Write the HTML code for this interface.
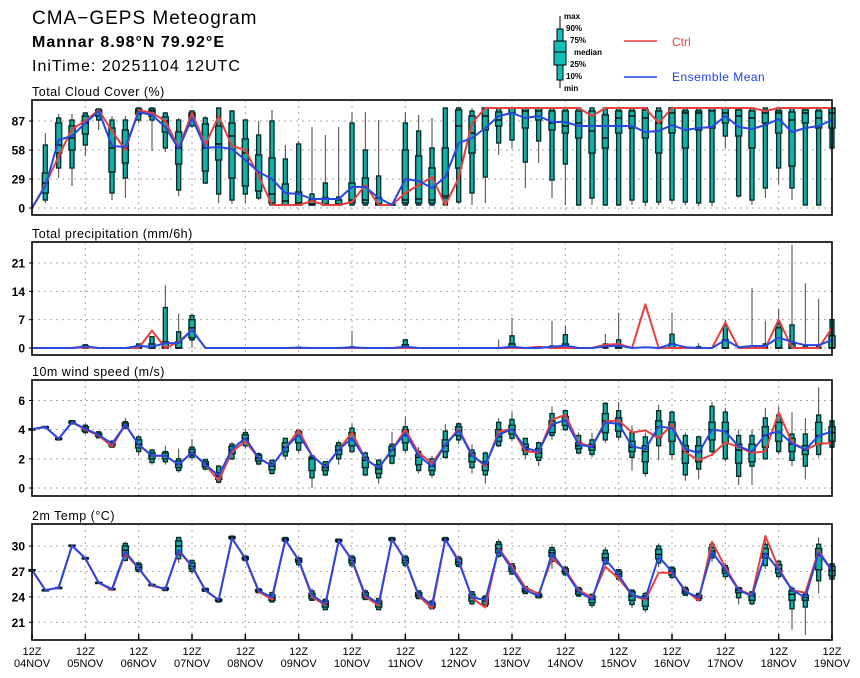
<!DOCTYPE html>
<html><head><meta charset="utf-8"><style>
html,body{margin:0;padding:0;background:#fff;}
svg{display:block;font-family:"Liberation Sans",sans-serif;}
</style></head><body>
<svg id="chart" width="860" height="678" viewBox="0 0 860 678">
<g>
<text x="32" y="24" font-size="19" letter-spacing="1">CMA−GEPS Meteogram</text>
<text x="32" y="47" font-size="16" font-weight="bold" letter-spacing="1">Mannar 8.98°N 79.92°E</text>
<text x="32" y="71" font-size="16" letter-spacing="1">IniTime: 20251104 12UTC</text>
</g>
<g>
<line x1="560" y1="16" x2="560" y2="88" stroke="#000" stroke-width="1"/>
<rect x="557" y="29" width="6" height="51" fill="#10c0b8" stroke="#000"/>
<rect x="554" y="41" width="12" height="24" fill="#10c0b8" stroke="#000"/>
<line x1="554" y1="52" x2="566" y2="52" stroke="#000"/>
<g font-size="8" font-weight="bold">
<text x="564" y="19">max</text>
<text x="566" y="31">90%</text>
<text x="570" y="43">75%</text>
<text x="574" y="55">median</text>
<text x="570" y="67">25%</text>
<text x="566" y="79">10%</text>
<text x="564" y="91">min</text>
</g>
<line x1="624" y1="41" x2="657" y2="41" stroke="#e84040" stroke-width="1.5"/>
<text x="672" y="46" font-size="12" fill="#e84040">Ctrl</text>
<line x1="624" y1="77" x2="657" y2="77" stroke="#2040e8" stroke-width="1.5"/>
<text x="672" y="81" font-size="12" fill="#2040e8" letter-spacing="0.5">Ensemble Mean</text>
</g>
<g id="plots"></g>
</svg>
<script>
// ---- time axis ----
const dayLabels = ["04NOV","05NOV","06NOV","07NOV","08NOV","09NOV","10NOV","11NOV","12NOV","13NOV","14NOV","15NOV","16NOV","17NOV","18NOV","19NOV"];
// ---- cloud cover ----
const ccTicks = [0,29,58,87];
const ccCtrl = [0,23,52,79,87,98,77,58,98,95,87,60,95,63,92,62,58,32,3,3,3,7,3,3,6,23,3,3,15,23,31,3,30,85,100,100,100,100,100,100,100,100,92,100,100,100,100,85,100,100,100,100,100,100,100,97,100,100,100,100,100];
const ccMean = [0,22,68,72,85,97,62,61,96,93,81,59,90,60,61,59,48,36,29,15,14,9,9,9,21,21,10,3,29,27,20,31,65,70,80,92,95,90,92,86,86,82,82,82,82,82,76,77,83,78,80,81,92,81,79,83,89,76,80,82,88];
const ccMin = [0,5,30,22,52,78,8,10,85,57,56,12,80,24,5,4,5,8,2,2,2,2,2,2,2,2,2,2,2,2,2,3,4,3,5,53,60,20,45,10,3,2,3,2,2,3,2,3,4,3,2,2,60,10,3,10,24,8,3,3,55];
const ccP10 = [0,8,40,40,63,88,15,30,88,88,60,18,82,25,14,8,14,10,3,3,3,3,3,3,3,3,3,3,3,3,3,3,6,15,31,65,68,46,67,28,44,3,10,3,3,8,6,6,8,6,5,6,72,12,8,20,40,20,3,3,60];
const ccP25 = [0,15,55,58,74,92,36,45,94,92,76,44,88,37,48,30,22,17,5,3,3,3,3,3,5,5,3,3,5,5,5,10,40,55,78,82,95,80,88,78,75,70,55,60,75,80,70,55,75,60,78,80,85,72,60,85,75,42,85,80,80];
const ccMed = [0,25,63,70,85,96,60,60,97,97,87,60,93,60,64,72,55,35,14,7,5,4,4,4,8,8,4,3,8,9,8,12,82,75,92,88,100,97,97,85,82,85,77,70,90,92,90,85,95,95,95,97,95,92,90,95,95,88,95,90,95];
const ccP75 = [0,35,85,82,92,98,80,78,99,99,91,76,95,84,82,85,69,53,50,24,16,8,10,8,25,30,10,4,58,52,40,60,98,92,100,96,100,100,100,97,97,97,97,93,97,97,98,97,100,97,97,100,100,98,97,98,97,96,98,97,100];
const ccP90 = [0,63,90,88,95,99,88,88,100,100,95,88,97,90,100,97,88,73,87,49,64,14,25,11,85,58,32,4,85,77,60,100,100,97,100,100,100,100,100,100,100,100,100,100,100,100,100,100,100,100,100,100,100,100,100,100,100,100,100,100,100];
const ccMax = [0,75,94,94,96,100,92,92,100,100,96,90,98,92,100,98,88,87,98,63,67,81,73,81,96,96,88,4,96,93,90,100,100,100,100,100,100,100,100,100,100,100,100,100,100,100,100,100,100,100,100,100,100,100,100,100,100,100,100,100,100];
// ---- precipitation ----
const prTicks = [0,7,14,21];
const prCtrl = [0,0,0,0,0.2,0,0,0,0,4.3,0,1.5,4.5,0,0,0,0,0,0,0,0,0,0,0,0,0,0,0,0,0,0,0,0,0,0,0,0,0,0.3,0,0,0,0,0.8,1,0,10.8,0,0,0,0,0,6.3,0,0,0,7,0,0,0,5];
const prMean = [0,0,0,0,0.4,0,0,0,0.5,0.3,1.2,1.2,4.5,0,0,0,0,0,0,0,0.1,0,0,0,0.2,0,0,0,0.3,0,0,0,0,0,0,0,0.3,0,0,0.3,0.6,0,0,0.4,0.6,0,0.2,0,1,0.2,0,0,2,0.2,0.5,0.5,2.6,1.5,0.7,0.7,2];
const prMed = [0,0,0,0,0,0,0,0,0,0,0,0,5,0,0,0,0,0,0,0,0,0,0,0,0,0,0,0,0,0,0,0,0,0,0,0,0,0,0,0,0,0,0,0,0,0,0,0,0,0,0,0,0,0,0,0,0,0,0,0,0];
const prP25 = [0,0,0,0,0,0,0,0,0,0,0,0,2.5,0,0,0,0,0,0,0,0,0,0,0,0,0,0,0,0,0,0,0,0,0,0,0,0,0,0,0,0,0,0,0,0,0,0,0,0,0,0,0,0,0,0,0,0,0,0,0,0];
const prP10 = [0,0,0,0,0,0,0,0,0,0,0,0,2,0,0,0,0,0,0,0,0,0,0,0,0,0,0,0,0,0,0,0,0,0,0,0,0,0,0,0,0,0,0,0,0,0,0,0,0,0,0,0,0,0,0,0,0,0,0,0,0];
const prP75 = [0,0,0,0,0.5,0,0,0,0.5,1,1.5,1.5,7,0,0,0,0,0,0,0,0,0,0,0,0,0,0,0,0.8,0,0,0,0,0,0,0,1,0,0,0,1,0,0,0,0.5,0,0,0,1,0,0,0,2,0,0,0,5,1,0,0,3];
const prP90 = [0,0,0,0,0.8,0,0,0,1,2.8,10,4,8,0,0,0,0,0,0,0,0.2,0,0,0,0.3,0,0,0,2,0,0,0,0,0,0,0,3,0,0,0.5,3.3,0,0,1,2,0,0,0,3.4,0,0.3,0,5.5,0,0.5,1,6,5.7,0.5,0.5,7];
const prMax = [0,0,0,0,1,0,0,0,1,2.8,15.5,8.5,8.6,0,0,0,0,0,0,0,0.4,0,0,0,4.2,0,0,0,2.2,0,0,0,0,0,0,2.1,7.5,0,0,6.7,5.6,0,0,3.5,8.7,0,0,0,8.7,0,1.2,0,7,0,14.8,6.7,9.6,25.5,16,12.2,7];
// ---- wind ----
const wsTicks = [0,2,4,6];
const wsCtrl = [4.04,4.18,3.38,4.52,4.0,3.6,2.85,4.34,2.97,2.21,2.21,1.6,2.44,1.6,0.5,2.5,3.2,2.05,1.53,2.74,3.95,2.21,1.44,2.63,3.8,1.99,1.37,2.63,4.0,2.4,1.7,2.97,4.04,2.3,1.48,3.88,4.04,2.51,2.44,4.68,5.02,3.08,2.85,4.57,4.63,3.81,3.95,3.42,4.34,2.44,1.9,2.28,3.13,2.81,2.4,2.51,5.18,3.13,2.63,3.04,3.08];
const wsMean = [4.04,4.18,3.38,4.52,4.06,3.65,3.04,4.34,2.97,2.21,2.21,1.6,2.44,1.6,0.85,2.67,3.42,2.05,1.53,2.74,3.65,2.21,1.44,2.63,3.42,1.99,1.37,2.63,3.77,2.21,1.48,2.97,3.95,2.21,1.6,3.65,4.04,2.74,2.51,4.34,4.68,2.97,2.81,4.5,4.4,2.85,2.67,4.22,4.11,2.67,2.4,4.0,3.88,2.85,2.51,3.65,3.88,3.04,2.63,3.58,3.88];
const wsMin = [4.0,4.1,3.25,4.35,3.7,3.4,2.75,4.0,2.2,1.6,1.6,1.05,1.9,1.2,0.3,1.9,2.7,1.55,0.9,1.95,2.4,0.0,0.8,1.6,2.4,0.8,0.3,1.6,2.4,1.0,0.7,2.0,3.0,1.0,0.3,2.8,3.2,2.0,1.5,3.3,3.9,2.3,2.1,3.1,3.3,1.2,0.8,1.9,1.9,0.5,0.6,2.2,1.8,0.2,0.2,2.0,2.3,1.5,0.6,2.1,2.7];
const wsP10 = [4.0,4.12,3.3,4.4,3.8,3.45,2.8,4.1,2.5,1.75,1.8,1.2,2.1,1.3,0.4,2.0,2.9,1.65,1.0,2.2,2.6,0.7,0.9,2.0,2.5,0.9,0.7,1.7,2.6,1.2,0.9,2.1,3.3,1.4,0.9,2.9,3.4,2.3,1.9,3.6,4.0,2.4,2.3,3.3,3.5,2.1,1.0,2.9,2.3,0.9,1.3,2.5,2.0,0.8,1.5,2.0,2.5,1.9,1.5,2.3,2.8];
const wsP25 = [4.0,4.15,3.33,4.45,3.9,3.55,2.9,4.2,2.75,2.0,2.0,1.4,2.25,1.45,0.6,2.35,3.15,1.85,1.25,2.5,3.1,1.2,1.2,2.3,2.9,1.4,1.0,2.2,3.1,1.6,1.2,2.5,3.6,1.8,1.2,3.2,3.7,2.6,2.1,3.8,4.3,2.7,2.6,3.8,3.9,2.5,1.8,3.5,3.2,1.7,1.8,3.3,3.1,1.7,1.8,2.8,3.2,2.5,2.3,3.0,3.2];
const wsMed = [4.04,4.18,3.38,4.5,4.05,3.65,3.0,4.3,3.0,2.2,2.2,1.6,2.45,1.65,0.8,2.6,3.4,2.05,1.5,2.8,3.6,2.0,1.4,2.6,3.3,1.9,1.3,2.6,3.6,2.1,1.5,2.9,3.9,2.2,1.6,3.5,4.0,2.8,2.4,4.3,4.6,2.9,2.8,4.6,4.4,2.8,2.5,4.2,4.1,2.5,2.5,4.0,3.9,2.6,2.4,3.6,3.8,3.0,2.6,3.6,3.8];
const wsP75 = [4.05,4.2,3.42,4.58,4.2,3.75,3.1,4.45,3.3,2.4,2.4,1.85,2.65,1.8,1.05,2.85,3.65,2.25,1.7,3.1,3.85,2.1,1.6,2.9,3.8,2.1,1.6,2.85,4.0,2.3,1.8,3.3,4.2,2.4,1.8,4.0,4.3,3.0,2.7,4.6,4.9,3.1,3.0,5.1,4.8,3.2,2.9,4.6,4.5,2.9,2.9,4.5,4.5,3.0,3.0,4.2,4.5,3.4,2.9,4.5,4.2];
const wsP90 = [4.05,4.22,3.45,4.62,4.3,3.85,3.2,4.55,3.5,2.6,2.5,2.0,2.8,1.95,1.5,3.0,3.8,2.35,1.9,3.4,3.95,2.2,1.8,3.1,4.1,2.4,1.9,3.0,4.2,2.5,2.0,3.9,4.4,2.6,2.4,4.5,4.7,3.4,3.1,5.1,5.3,3.6,3.3,5.8,5.3,3.8,3.5,5.3,5.2,3.6,3.5,5.6,5.2,3.6,3.6,4.8,5.0,3.7,3.7,5.0,4.6];
const wsMax = [4.05,4.25,3.5,4.65,4.4,3.9,3.3,4.8,3.6,2.7,2.9,2.7,3.35,2.0,1.55,3.15,4.05,2.45,1.95,3.45,4.0,2.3,1.85,3.25,4.4,2.5,2.0,3.85,4.9,2.8,2.2,4.4,4.5,3.0,2.5,4.8,5.2,3.4,3.2,5.6,5.4,3.8,3.8,5.9,5.9,4.3,3.8,5.7,5.3,3.8,3.6,5.9,5.5,4.0,4.0,5.5,5.6,5.2,4.8,6.9,4.6];
// ---- temperature ----
const tTicks = [21,24,27,30];
const tCtrl = [27.17,24.8,25.08,30.04,28.54,25.67,24.8,29.1,27.36,25.3,24.92,29.4,27.6,24.75,23.62,30.9,28.5,24.6,23.7,30.71,28.3,24.0,23.0,30.6,28.3,24.0,23.0,30.79,28.3,24.1,22.64,30.79,28.35,23.82,22.76,29.72,27.56,25.12,24.33,28.54,27.17,24.8,23.94,27.56,26.18,24.21,23.62,26.85,26.85,24.8,23.54,30.51,27.48,24.88,24.21,31.18,27.36,24.8,24.49,29.45,27.09];
const tMean = [27.17,24.8,25.08,30.04,28.54,25.67,24.92,29.33,27.36,25.39,24.92,29.53,27.64,24.8,23.62,30.9,28.54,24.72,23.94,30.71,28.35,24.21,23.15,30.63,28.35,24.21,23.23,30.79,28.35,24.21,23.03,30.79,28.15,23.94,23.62,29.61,27.24,24.8,24.09,29.13,26.97,24.61,23.7,28.43,26.57,24.21,23.82,28.74,26.97,24.61,23.94,29.33,27.17,24.8,24.09,29.13,27.17,24.8,23.94,29.21,27.09];
const tMin = [27.1,24.75,25.0,29.9,28.4,25.6,24.8,28.2,26.9,25.3,24.7,28.0,26.7,24.6,23.3,30.7,28.2,24.4,23.3,30.5,27.6,23.5,22.4,30.4,27.4,23.6,22.4,30.5,27.5,23.7,22.5,30.5,27.5,23.0,22.8,28.6,26.6,24.3,23.8,27.3,26.4,24.0,22.7,27.7,25.8,22.7,22.2,27.5,26.1,24.1,23.5,28.1,26.0,23.1,23.0,27.3,26.1,20.1,19.5,24.4,26.0];
const tP10 = [27.12,24.77,25.02,29.95,28.45,25.62,24.85,28.3,27.0,25.32,24.75,28.5,27.0,24.65,23.4,30.8,28.3,24.5,23.4,30.55,27.8,23.6,22.5,30.45,27.7,23.7,22.5,30.6,27.7,23.8,22.6,30.6,27.6,23.2,22.9,28.8,26.7,24.4,23.9,28.2,26.6,24.1,23.0,27.9,26.1,23.1,22.5,28.0,26.3,24.2,23.6,28.6,26.4,23.9,23.2,27.7,26.4,22.6,22.8,25.9,26.1];
const tP25 = [27.15,24.78,25.05,30.0,28.5,25.65,24.88,28.8,27.2,25.35,24.85,29.0,27.3,24.7,23.5,30.9,28.4,24.6,23.6,30.65,28.1,23.8,22.8,30.55,28.0,23.9,22.8,30.7,28.0,24.0,22.8,30.7,27.8,23.5,23.1,29.2,27.0,24.6,24.0,28.8,26.8,24.3,23.3,28.3,26.4,23.6,22.9,28.5,26.6,24.4,23.8,28.9,26.8,24.5,23.6,28.6,26.8,23.6,23.6,27.2,26.5];
const tMed = [27.17,24.8,25.08,30.05,28.55,25.67,24.92,29.5,27.5,25.4,24.95,30.0,27.6,24.8,23.6,31.0,28.55,24.7,23.9,30.75,28.3,24.1,23.1,30.65,28.3,24.2,23.2,30.8,28.3,24.2,23.1,30.8,28.1,23.9,23.5,29.7,27.3,24.8,24.1,29.2,27.0,24.6,23.7,28.6,26.7,24.1,23.8,29.0,27.0,24.6,23.9,29.4,27.1,24.8,24.1,29.1,27.3,24.3,23.9,28.9,27.1];
const tP75 = [27.2,24.82,25.1,30.1,28.6,25.7,24.96,30.0,27.8,25.45,25.05,30.6,28.0,24.95,23.7,31.1,28.7,24.85,24.2,30.9,28.5,24.4,23.5,30.75,28.6,24.5,23.5,30.9,28.6,24.5,23.3,30.9,28.5,24.3,23.9,30.2,27.6,25.0,24.3,29.5,27.3,24.9,24.1,29.1,27.0,24.6,24.1,29.6,27.3,24.9,24.2,29.8,27.4,25.0,24.4,29.7,27.8,24.7,24.2,29.7,27.6];
const tP90 = [27.2,24.84,25.12,30.1,28.65,25.72,24.98,30.3,28.0,25.48,25.1,31.0,28.3,25.0,23.8,31.15,28.8,24.95,24.5,31.0,28.6,24.7,23.7,30.8,28.8,24.7,23.8,31.0,28.8,24.7,23.5,31.0,28.7,24.6,24.1,30.5,27.9,25.2,24.5,29.8,27.5,25.1,24.3,29.5,27.2,24.8,24.4,30.0,27.5,25.1,24.4,30.2,27.7,25.1,24.6,30.2,28.2,25.0,24.4,30.2,27.9];
const tMax = [27.2,24.85,25.15,30.15,28.7,25.75,25.0,30.5,28.1,25.5,25.2,31.1,28.4,25.1,23.9,31.3,28.9,25.0,24.6,31.0,28.8,25.0,23.8,30.85,28.9,24.9,23.9,31.05,28.9,24.8,23.7,31.0,28.8,24.7,24.2,30.8,28.0,25.3,24.6,30.2,27.7,25.2,24.4,29.9,27.3,24.9,24.6,30.3,27.6,25.3,24.5,30.6,28.0,25.2,24.7,30.7,28.4,25.3,24.5,31.0,28.0];

const NS = "http://www.w3.org/2000/svg";
const X0 = 32, X1 = 832, NSTEP = 60;
function xOf(i){ return X0 + (X1 - X0) * i / NSTEP; }
const plots = document.getElementById('plots');
function mk(tag, attrs, parent){
  const e = document.createElementNS(NS, tag);
  for (const k in attrs) e.setAttribute(k, attrs[k]);
  (parent || plots).appendChild(e);
  return e;
}

const panels = [
  {name:'cloud-cover', title:'Total Cloud Cover (%)', top:100, bot:215, v0:0, y0:208, v1:87, y1:121, ticks:ccTicks, ctrl:ccCtrl, mean:ccMean,
   box:[ccMin,ccP10,ccP25,ccMed,ccP75,ccP90,ccMax], boxFrom:1},
  {name:'precipitation', title:'Total precipitation (mm/6h)', top:242, bot:355, v0:0, y0:348, v1:21, y1:263, ticks:prTicks, ctrl:prCtrl, mean:prMean,
   box:[null,prP10,prP25,prMed,prP75,prP90,prMax], boxFrom:1},
  {name:'wind-speed', title:'10m wind speed (m/s)', top:380, bot:496, v0:0, y0:488, v1:6, y1:400.5, ticks:wsTicks, ctrl:wsCtrl, mean:wsMean,
   box:[wsMin,wsP10,wsP25,wsMed,wsP75,wsP90,wsMax], boxFrom:0},
  {name:'temperature', title:'2m Temp (°C)', top:524, bot:640, v0:21, y0:622.3, v1:30, y1:546, ticks:tTicks, ctrl:tCtrl, mean:tMean,
   box:[tMin,tP10,tP25,tMed,tP75,tP90,tMax], boxFrom:0}
];

panels.forEach(function(p){
  const yOf = function(v){ return p.y0 + (v - p.v0) * (p.y1 - p.y0) / (p.v1 - p.v0); };
  const g = mk('g', {});
  
  
  const t = mk('text', {x:X0, y:p.top - 4, 'font-size':12.5, 'letter-spacing':'0.5'}, g);
  t.textContent = p.title;
  
  
  for (let d = 1; d < dayLabels.length - 1; d++) {
    const gx = xOf(d * 4);
    const gl = mk('line', {x1:gx, x2:gx, y1:p.top, y2:p.bot, stroke:'#aaa', 'stroke-width':1, 'stroke-dasharray':'2,4'}, g);
    
    
  }
  p.ticks.forEach(function(tv){
    const ty = yOf(tv);
    const gl = mk('line', {x1:X0, x2:X1, y1:ty, y2:ty, stroke:'#aaa', 'stroke-width':1, 'stroke-dasharray':'2,4'}, g);
    
    
    const tk = mk('line', {x1:X0 - 3, x2:X0, y1:ty, y2:ty, stroke:'#000'}, g);
    
    
    const lb = mk('text', {x:X0 - 7, y:ty + 4.5, 'font-size':12, 'font-weight':'bold', 'text-anchor':'end'}, g);
    lb.textContent = tv;
    
    
  });
  const [bMin,bP10,bP25,bMed,bP75,bP90,bMax] = p.box;
  for (let i = p.boxFrom; i <= NSTEP; i++) {
    const cx = xOf(i);
    const lo = bMin ? bMin[i] : 0;
    if (bMax[i] - lo <= 0 && bP90[i] <= 0) continue;
    const bg = mk('g', {}, g);
    
    
    mk('line', {x1:cx, x2:cx, y1:yOf(bMax[i]), y2:yOf(lo), stroke:'#444', 'stroke-width':1}, bg);
    const p10 = bP10[i], p90 = bP90[i];
    if (p90 > p10) mk('rect', {x:cx - 2, y:yOf(p90), width:4, height:Math.max(1, yOf(p10) - yOf(p90)), fill:'#14b0a8', stroke:'#06302c', 'stroke-width':1.4}, bg);
    if (bP75[i] > bP25[i]) mk('rect', {x:cx - 3, y:yOf(bP75[i]), width:6, height:Math.max(1, yOf(bP25[i]) - yOf(bP75[i])), fill:'#14b0a8', stroke:'#06302c', 'stroke-width':1.5}, bg);
    mk('line', {x1:cx - 3, x2:cx + 3, y1:yOf(bMed[i]), y2:yOf(bMed[i]), stroke:'#000', 'stroke-width':1.3}, bg);
  }
  function series(arr, color, nm){
    let d = '';
    arr.forEach(function(v, i){ d += (i ? 'L' : 'M') + xOf(i).toFixed(2) + ',' + yOf(v).toFixed(2); });
    const pl = mk('path', {d:d, fill:'none', stroke:color, 'stroke-width':2, 'stroke-linejoin':'round'}, g);
    
    
  }
  series(p.ctrl, '#e84040', p.name + '-ctrl-line');
  series(p.mean, '#2848e0', p.name + '-mean-line');
  const fr = mk('rect', {x:X0, y:p.top, width:X1 - X0, height:p.bot - p.top, fill:'none', stroke:'#000', 'stroke-width':1.6}, g);
  
  
});

const xg = mk('g', {});


dayLabels.forEach(function(lbl, d){
  const x = xOf(d * 4);
  const tk = mk('line', {x1:x, x2:x, y1:640, y2:634, stroke:'#000', 'stroke-width':1.5}, xg);
  
  
  const t1 = mk('text', {x:x, y:655, 'font-size':11, 'text-anchor':'middle'}, xg);
  t1.textContent = '12Z';
  
  
  const t2 = mk('text', {x:x, y:667, 'font-size':11, 'text-anchor':'middle'}, xg);
  t2.textContent = lbl;
  
  
});
</script>
</body></html>
